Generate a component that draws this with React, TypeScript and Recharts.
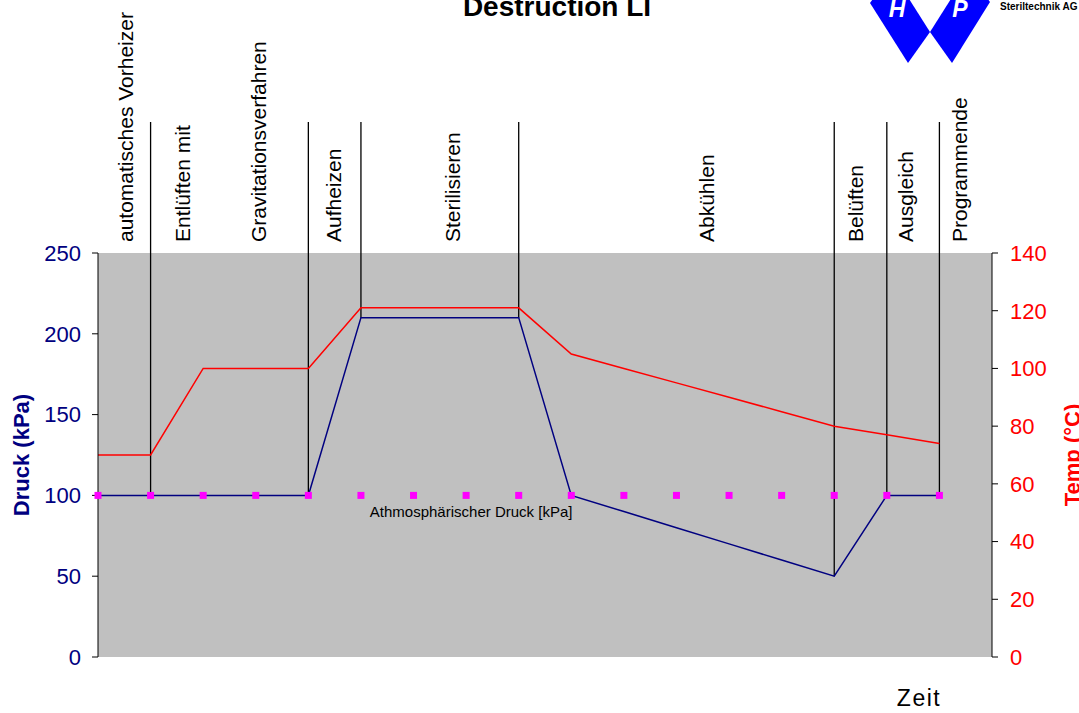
import { useLayoutEffect } from "react";
import {
  LineChart,
  Line,
  XAxis,
  YAxis,
  CartesianGrid,
  ReferenceLine,
  ReferenceDot,
} from "recharts";

// Programmschritte (x-Positionen der Messpunkte)
const steps = [0, 1, 2, 3, 4, 5, 6, 7, 8, 9, 10, 11, 12, 13, 14, 15, 16];
const pressure = [100, 100, 100, 100, 100, 210, 210, 210, 210, 100, 90, 80, 70, 60, 50, 100, 100];
const temperature = [70, 70, 100, 100, 100, 121, 121, 121, 121, 105, 100, 95, 90, 85, 80, 77, 74];
const atmospheric = [100, 100, 100, 100, 100, 100, 100, 100, 100, 100, 100, 100, 100, 100, 100, 100, 100];

const pressureTicks = [0, 50, 100, 150, 200, 250];
const tempTicks = [0, 20, 40, 60, 80, 100, 120, 140];

// Phasengrenzen (Schritt-Index) und Beschriftungen
const phaseBoundaries = [1, 4, 5, 8, 14, 15, 16];
const phaseNames = [
  "automatisches Vorheizer",
  "Entlüften mit",
  "Gravitationsverfahren",
  "Aufheizen",
  "Sterilisieren",
  "Abkühlen",
  "Belüften",
  "Ausgleich",
  "Programmende",
];
const phaseLabelAt = [0.53, 1.6, 3.06, 4.47, 6.75, 11.58, 14.41, 15.36, 16.39];

const LINE_TOP = 331; // obere Kante der Phasenlinien in kPa (oberhalb der Achse)

const FONT = "'Liberation Sans', Arial, sans-serif";
const NAVY = "#000080";
const RED = "#ff0000";

const rows = steps.map((t, i) => ({
  t,
  p: pressure[i],
  temp: temperature[i],
  atm: atmospheric[i],
}));

const SquareDot = (props: any) => {
  const { cx, cy, index } = props;
  if (cx == null || cy == null) return null;
  return <rect key={index} x={cx - 3.5} y={cy - 3.5} width={7} height={7} fill="#ff00ff" />;
};

const PhaseText = ({ cx, cy, text }: any) => {
  const x = cx;
  const y = cy - 11;
  return (
    <text
      x={x}
      y={y}
      transform={`rotate(-90 ${x} ${y})`}
      fontSize={21}
      fill="#000"
      dominantBaseline="central"
      textAnchor="start"
      fontFamily={FONT}
    >
      {text}
    </text>
  );
};

const AtmText = ({ cx, cy }: any) => (
  <text x={cx + 5} y={cy + 22} fontSize={15} fill="#000" textAnchor="middle" fontFamily={FONT}>
    Athmosphärischer Druck [kPa]
  </text>
);

function Overlay() {
  return (
    <svg
      width={1079}
      height={713}
      style={{ position: "absolute", left: 0, top: 0, pointerEvents: "none" }}
      fontFamily={FONT}
    >
      <text x={557} y={16} fontSize={28} fontWeight="bold" textAnchor="middle" fill="#000">
        Destruction LI
      </text>
      {/* Logo */}
      <polygon points="892,-28 930,32 908,63 870,3" fill="#0000ff" />
      <polygon points="968,-28 990,2 952,63 930,32" fill="#0000ff" />
      <text x={897} y={17} fontSize={23} fontWeight="bold" fontStyle="italic" fill="#fff" textAnchor="middle">
        H
      </text>
      <text x={960} y={17} fontSize={23} fontWeight="bold" fontStyle="italic" fill="#fff" textAnchor="middle">
        P
      </text>
      <text x={1000} y={10} fontSize={10} fontWeight="bold" fill="#000">
        Steriltechnik AG
      </text>
      {/* Achsentitel */}
      <text
        x={21}
        y={455}
        transform="rotate(-90 21 455)"
        fontSize={22}
        fontWeight="bold"
        fill={NAVY}
        textAnchor="middle"
        dominantBaseline="central"
      >
        Druck (kPa)
      </text>
      <text
        x={1072}
        y={455}
        transform="rotate(-90 1072 455)"
        fontSize={22}
        fontWeight="bold"
        fill={RED}
        textAnchor="middle"
        dominantBaseline="central"
      >
        Temp (°C)
      </text>
      <text x={919} y={706} fontSize={23} letterSpacing={1.5} fill="#000" textAnchor="middle">
        Zeit
      </text>
    </svg>
  );
}

export default function App() {
  useLayoutEffect(() => {
    document.body.style.margin = "0";
  }, []);

  return (
    <div style={{ position: "relative", width: 1079, height: 713, fontFamily: FONT, overflow: "hidden" }}>
      <LineChart
        width={1079}
        height={713}
        data={rows}
        margin={{ top: 253, right: 0, bottom: 56, left: 0 }}
      >
        <CartesianGrid yAxisId="p" fill="#c0c0c0" horizontal={false} vertical={false} />
        <XAxis dataKey="t" type="number" domain={[0, 17]} hide />
        <YAxis
          yAxisId="p"
          orientation="left"
          width={98}
          domain={[0, 250]}
          ticks={pressureTicks}
          interval={0}
          tick={{ fill: NAVY, fontSize: 22 }}
          tickSize={6}
          tickMargin={11}
          axisLine={{ stroke: "#000" }}
          tickLine={{ stroke: "#000" }}
        />
        <YAxis
          yAxisId="t"
          orientation="right"
          width={87}
          domain={[0, 140]}
          ticks={tempTicks}
          interval={0}
          tick={{ fill: RED, fontSize: 22 }}
          tickSize={6}
          tickMargin={12}
          axisLine={{ stroke: "#000" }}
          tickLine={{ stroke: "#000" }}
        />
        {phaseBoundaries.map((b) => (
          <ReferenceLine
            key={`b${b}`}
            yAxisId="p"
            segment={[
              { x: b, y: pressure[b] },
              { x: b, y: LINE_TOP },
            ]}
            stroke="#000"
            strokeWidth={1.3}
            ifOverflow="visible"
          />
        ))}
        {phaseNames.map((name, i) => (
          <ReferenceDot
            key={name}
            yAxisId="p"
            x={phaseLabelAt[i]}
            y={250}
            r={0}
            ifOverflow="visible"
            shape={(p: any) => <PhaseText {...p} text={name} />}
          />
        ))}
        <ReferenceDot
          yAxisId="p"
          x={7}
          y={100}
          r={0}
          ifOverflow="visible"
          shape={(p: any) => <AtmText {...p} />}
        />
        <Line
          yAxisId="p"
          type="linear"
          dataKey="p"
          stroke={NAVY}
          strokeWidth={1.5}
          dot={false}
          isAnimationActive={false}
        />
        <Line
          yAxisId="t"
          type="linear"
          dataKey="temp"
          stroke={RED}
          strokeWidth={1.5}
          dot={false}
          isAnimationActive={false}
        />
        <Line
          yAxisId="p"
          type="linear"
          dataKey="atm"
          stroke="none"
          dot={<SquareDot />}
          activeDot={false}
          isAnimationActive={false}
        />
      </LineChart>
      <Overlay />
    </div>
  );
}
